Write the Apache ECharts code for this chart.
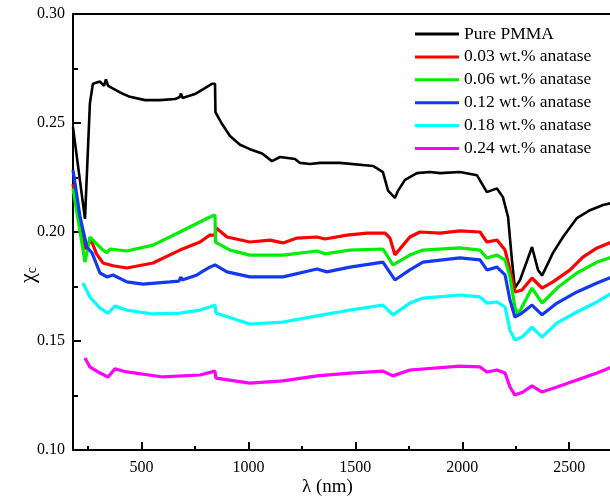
<!DOCTYPE html>
<html><head><meta charset="utf-8">
<script src="https://cdn.jsdelivr.net/npm/echarts@6/dist/echarts.min.js"></script>
<style>html,body{margin:0;padding:0;background:#fff}#c{width:610px;height:501px}</style>
</head><body><div id="c"></div>
<script>
const seriesNames = ['Pure PMMA','0.03 wt.% anatase','0.06 wt.% anatase','0.12 wt.% anatase','0.18 wt.% anatase','0.24 wt.% anatase'];
const xTicks = [500,1000,1500,2000,2500];
const xMinorTicks = [250,750,1250,1750,2250];

const pmmaX = [180,236,259,273,306,325,334,344,400,446,517,587,657,678,685,692,750,797,830,844,846,877,914,961,1007,1064,1110,1148,1218,1241,1288,1335,1428,1583,1629,1653,1685,1700,1732,1755,1788,1849,1896,1989,2069,2115,2162,2190,2214,2232,2246,2270,2300,2326,2354,2373,2424,2471,2536,2597,2658,2700];
const pmmaY = [0.248,0.206,0.259,0.268,0.269,0.267,0.270,0.267,0.264,0.262,0.2605,0.2605,0.261,0.2618,0.2635,0.2615,0.2633,0.266,0.268,0.268,0.255,0.2495,0.244,0.240,0.238,0.236,0.2325,0.2344,0.2335,0.2317,0.2312,0.2317,0.2317,0.2303,0.2275,0.219,0.2156,0.219,0.2239,0.2252,0.227,0.2275,0.227,0.2275,0.226,0.2183,0.220,0.216,0.2069,0.1872,0.1743,0.178,0.186,0.1931,0.1826,0.180,0.1904,0.1977,0.2064,0.210,0.2124,0.2133];

const a03X = [180,213,240,264,290,320,367,432,554,680,774,820,844,850,900,1007,1101,1162,1227,1321,1358,1461,1554,1639,1662,1685,1755,1802,1896,1989,2083,2115,2162,2200,2223,2246,2279,2326,2373,2424,2504,2564,2630,2700];
const a03Y = [0.222,0.202,0.192,0.1965,0.190,0.1858,0.1845,0.1835,0.1858,0.1917,0.1954,0.1986,0.1986,0.2018,0.1977,0.1954,0.1963,0.195,0.1972,0.1977,0.1968,0.1986,0.1995,0.1995,0.1972,0.1895,0.1977,0.200,0.1995,0.2005,0.200,0.1954,0.1963,0.1917,0.1826,0.1725,0.1734,0.1789,0.1743,0.1771,0.1826,0.1885,0.1927,0.1954];

const a06X = [180,236,259,320,339,353,432,554,680,820,844,846,853,914,1007,1162,1321,1358,1475,1629,1676,1685,1755,1816,1989,2083,2115,2162,2200,2223,2246,2260,2326,2373,2443,2536,2630,2700];
const a06Y = [0.220,0.1862,0.1977,0.1917,0.1905,0.1922,0.1913,0.194,0.200,0.2069,0.2078,0.1954,0.1954,0.1917,0.1894,0.1894,0.1913,0.190,0.1917,0.1922,0.1849,0.1858,0.1894,0.1917,0.1927,0.1917,0.1881,0.1894,0.1872,0.1794,0.1656,0.162,0.1743,0.1674,0.1743,0.1812,0.1862,0.1885];

const a12X = [180,213,245,269,306,339,367,432,507,633,675,685,690,760,774,820,844,900,1007,1162,1321,1367,1475,1629,1685,1755,1816,1989,2083,2115,2162,2200,2223,2246,2279,2326,2373,2443,2536,2630,2700];
const a12Y = [0.2284,0.2069,0.1931,0.1904,0.1812,0.1794,0.1803,0.1771,0.1761,0.1771,0.1775,0.1794,0.178,0.1803,0.1812,0.1839,0.1849,0.1817,0.1794,0.1794,0.183,0.1817,0.1839,0.1862,0.178,0.1826,0.1862,0.1881,0.1872,0.1826,0.1839,0.1803,0.1688,0.161,0.1628,0.1665,0.162,0.1674,0.1725,0.1766,0.1794];

const a18X = [227,259,306,344,376,432,554,680,774,820,844,848,1007,1162,1321,1475,1629,1676,1685,1755,1816,1989,2083,2115,2162,2200,2223,2246,2279,2326,2373,2443,2536,2630,2700];
const a18Y = [0.1766,0.1702,0.1651,0.1628,0.166,0.1642,0.1624,0.1628,0.1642,0.1656,0.1665,0.1628,0.1578,0.1587,0.1615,0.1642,0.1665,0.162,0.1628,0.1674,0.1697,0.1711,0.1702,0.1674,0.1679,0.1656,0.155,0.1505,0.1518,0.1564,0.1518,0.1583,0.1633,0.1679,0.172];

const a24X = [236,259,306,344,376,432,601,774,844,848,1007,1162,1321,1475,1629,1676,1685,1755,1989,2083,2115,2162,2200,2223,2246,2284,2326,2373,2443,2536,2630,2700];
const a24Y = [0.1422,0.1381,0.1353,0.1335,0.1372,0.1358,0.1335,0.1344,0.1362,0.133,0.1307,0.1317,0.134,0.1353,0.1362,0.134,0.1335,0.1367,0.1385,0.1381,0.1358,0.1367,0.1353,0.1289,0.1252,0.1266,0.1294,0.1266,0.1289,0.1321,0.1353,0.1381];

const colors = ['#000000','#ff0000','#00ee00','#1238f0','#00ffff','#ff00ff'];
const xs = [pmmaX,a03X,a06X,a12X,a18X,a24X];
const ys = [pmmaY,a03Y,a06Y,a12Y,a18Y,a24Y];
const font = 'Liberation Serif';

const chart = echarts.init(document.getElementById('c'), null, {renderer:'canvas'});
const series = seriesNames.map((n,i)=>({
  name:n, type:'line', symbol:'none', showSymbol:false, smooth:false,
  lineStyle:{color:colors[i], width:i===0?2.6:3.2},
  itemStyle:{color:colors[i]},
  data: xs[i].map((x,k)=>[x, ys[i][k]]),
  z: 2
}));
chart.setOption({
  animation:false,
  backgroundColor:'#fff',
  grid:{left:73, right:-2, top:14, bottom:51, show:true, borderColor:'#000', borderWidth:2, containLabel:false, outerBoundsMode:'none'},
  legend:{
    orient:'vertical', left:415, top:24, padding:0, itemWidth:44, itemHeight:3, itemGap:2.9,
    icon:'rect', data:seriesNames,
    textStyle:{fontFamily:font, fontSize:17.5, color:'#000', lineHeight:20}
  },
  xAxis:[{
    type:'value', min:180, max:2700,
    name:'λ (nm)', nameLocation:'middle', nameGap:28, nameMoveOverlap:false,
    nameTextStyle:{fontFamily:font, fontSize:19, color:'#000', padding:[0,30,0,0]},
    axisLine:{show:true, lineStyle:{color:'#000', width:2}},
    axisTick:{show:true, inside:true, length:8, lineStyle:{color:'#000', width:2}, customValues:xTicks},
    axisLabel:{show:true, fontFamily:font, fontSize:16, color:'#000', margin:10, customValues:xTicks, formatter:v=>String(v)},
    splitLine:{show:false}
  },{
    type:'value', min:180, max:2700, position:'bottom',
    axisLine:{show:false},
    axisTick:{show:true, inside:true, length:4, lineStyle:{color:'#000', width:2}, customValues:xMinorTicks},
    axisLabel:{show:false},
    splitLine:{show:false}
  }],
  yAxis:{
    type:'value', min:0.10, max:0.30, interval:0.05,
    name:'{a|χ}{b|c}', nameLocation:'middle', nameGap:34, nameRotate:90, nameMoveOverlap:false,
    nameTextStyle:{color:'#000', padding:[0,86,0,0],
      rich:{a:{fontFamily:font, fontSize:22, color:'#000'}, b:{fontFamily:font, fontSize:14, color:'#000', verticalAlign:'bottom', padding:[8,0,0,0]}}},
    axisLine:{show:true, lineStyle:{color:'#000', width:2}},
    axisTick:{show:true, inside:true, length:8, lineStyle:{color:'#000', width:2}},
    minorTick:{show:true, splitNumber:2, length:5, lineStyle:{color:'#000', width:2}},
    axisLabel:{fontFamily:font, fontSize:16, color:'#000', margin:8, formatter:v=>v.toFixed(2)},
    splitLine:{show:false}
  },
  series: series
});
</script></body></html>
